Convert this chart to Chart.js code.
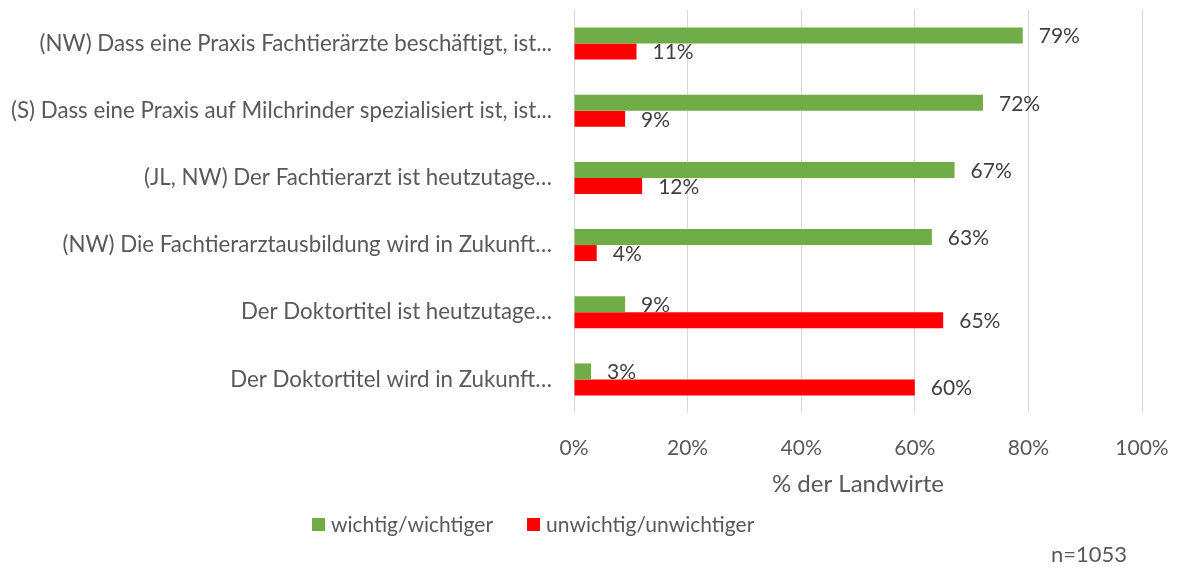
<!DOCTYPE html>
<html>
<head>
<meta charset="utf-8">
<script src="https://cdn.jsdelivr.net/npm/chart.js@4/dist/chart.umd.min.js"></script>
<style>
html,body{margin:0;padding:0;background:#fff;}
#wrap{width:1186px;height:570px;position:relative;}
</style>
</head>
<body>
<div id="wrap"><canvas id="c" width="1186" height="570"></canvas></div>
<script>
const categories = [
  "(NW) Dass eine Praxis Fachtierärzte beschäftigt, ist...",
  "(S) Dass eine Praxis auf Milchrinder spezialisiert ist, ist...",
  "(JL, NW) Der Fachtierarzt ist heutzutage…",
  "(NW) Die Fachtierarztausbildung wird in Zukunft…",
  "Der Doktortitel ist heutzutage…",
  "Der Doktortitel wird in Zukunft…"
];
const seriesNames = ["wichtig/wichtiger", "unwichtig/unwichtiger"];
const wichtig = [79, 72, 67, 63, 9, 3];
const unwichtig = [11, 9, 12, 4, 65, 60];
const xTicks = [0, 20, 40, 60, 80, 100];
const axisTitle = "% der Landwirte";
const footnote = "n=1053";

const FONT = "Lato, 'Open Sans', sans-serif";
const colors = ["#70AD47", "#FF0000"];

const labelPlugin = {
  id: 'extras',
  afterDatasetsDraw(chart) {
    const ctx = chart.ctx;
    ctx.save();
    ctx.font = "21px " + FONT;
    ctx.fillStyle = "#404040";
    ctx.textBaseline = "middle";
    ctx.textAlign = "left";
    chart.data.datasets.forEach((ds, i) => {
      const meta = chart.getDatasetMeta(i);
      meta.data.forEach((bar, j) => {
        ctx.fillText(ds.data[j] + "%", bar.x + 16, bar.y + 1);
      });
    });
    // legend
    let x = 312;
    const y = 525;
    ctx.font = "21px " + FONT;
    chart.data.datasets.forEach((ds, i) => {
      ctx.fillStyle = ds.backgroundColor;
      ctx.fillRect(x, y - 7, 13, 13);
      ctx.fillStyle = "#595959";
      ctx.fillText(ds.label, x + 19, y);
      x += 19 + ctx.measureText(ds.label).width + 34;
    });
    // footnote
    ctx.font = "22px " + FONT;
    ctx.textAlign = "center";
    ctx.fillStyle = "#595959";
    ctx.fillText(footnote, 1089, 555);
    ctx.restore();
  }
};

new Chart(document.getElementById('c'), {
  type: 'bar',
  data: {
    labels: categories,
    datasets: [
      { label: seriesNames[0], data: wichtig, backgroundColor: colors[0], categoryPercentage: 0.476, barPercentage: 1 },
      { label: seriesNames[1], data: unwichtig, backgroundColor: colors[1], categoryPercentage: 0.476, barPercentage: 1 }
    ]
  },
  options: {
    indexAxis: 'y',
    responsive: false,
    animation: false,
    layout: { padding: { top: 10, right: 44, bottom: 71, left: 0 } },
    plugins: {
      legend: { display: false },
      tooltip: { enabled: false }
    },
    scales: {
      x: {
        min: 0, max: 100,
        afterBuildTicks(scale) { scale.ticks = xTicks.map(v => ({ value: v })); },
        ticks: {
          callback: v => v + "%",
          color: "#595959",
          font: { family: FONT, size: 21 },
          padding: 23
        },
        grid: { color: "#D9D9D9", lineWidth: 1, drawTicks: false },
        border: { display: false },
        title: {
          display: true, text: axisTitle, color: "#595959",
          font: { family: FONT, size: 24 },
          padding: { top: 8, bottom: 0 }
        },
        afterFit(scale) { scale.height = 86; scale.paddingLeft = 0; scale.paddingRight = 0; }
      },
      y: {
        ticks: {
          color: "#595959",
          font: { family: FONT, size: 22.3 },
          padding: 22,
          autoSkip: false
        },
        grid: { display: false, drawTicks: false },
        border: { display: false },
        afterFit(scale) { scale.width = 574; scale.paddingTop = 0; scale.paddingBottom = 0; }
      }
    }
  },
  plugins: [labelPlugin]
});
</script>
</body>
</html>
